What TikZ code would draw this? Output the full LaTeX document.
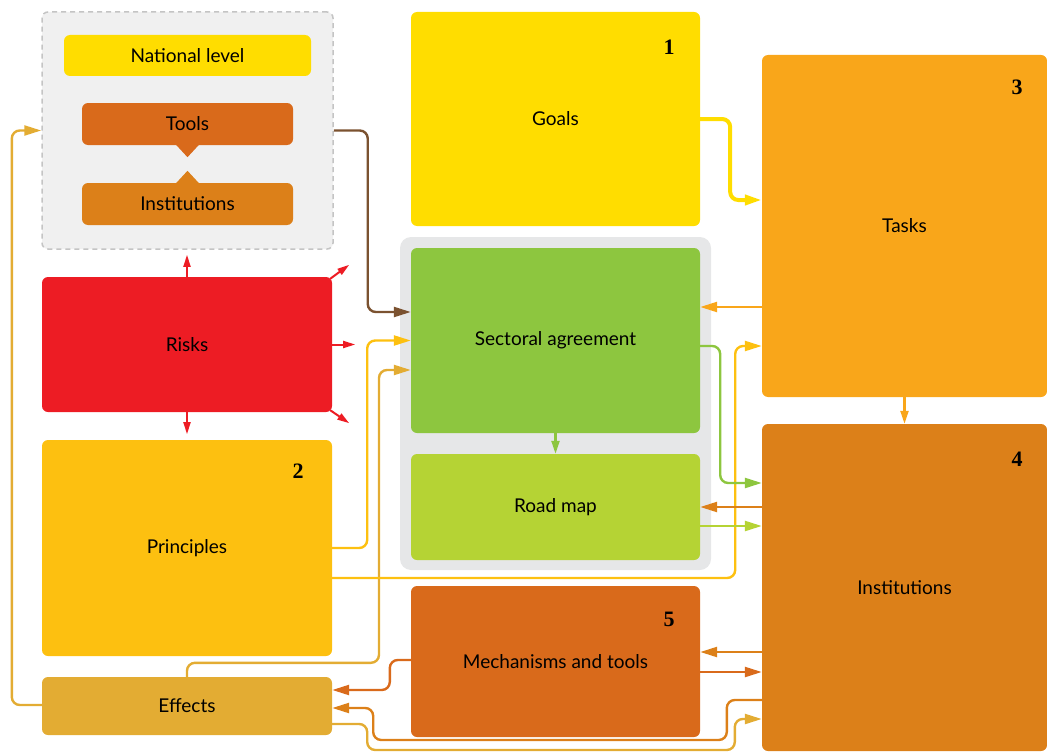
\documentclass[tikz,border=0pt]{standalone}
\usepackage{fontspec}
\setmainfont{Lato}
\newfontfamily\numfont{Liberation Serif}
\usetikzlibrary{arrows.meta}
\definecolor{yelc}{HTML}{FFDD00}
\definecolor{taskc}{HTML}{F9A61A}
\definecolor{instc}{HTML}{DC8019}
\definecolor{mechc}{HTML}{D96A1B}
\definecolor{sectc}{HTML}{8DC63F}
\definecolor{roadc}{HTML}{B5D334}
\definecolor{riskc}{HTML}{ED1C24}
\definecolor{princc}{HTML}{FDC010}
\definecolor{effc}{HTML}{E3AC33}
\definecolor{contc}{HTML}{E6E7E8}
\definecolor{grpc}{HTML}{F0F0F0}
\definecolor{grpb}{HTML}{C4C4C4}
\definecolor{brownc}{HTML}{7B5230}
\begin{document}
\begin{tikzpicture}[x=1pt,y=-1pt,
  box/.style={rectangle, rounded corners=6pt, inner sep=0pt, text=black,
    font=\fontsize{19}{22}\selectfont},
  numlabel/.style={inner sep=0pt, text=black, font=\numfont\bfseries\fontsize{22}{22}\selectfont},
  conn/.style={line width=2.4pt, rounded corners=8pt, -{Triangle[length=17pt,width=10pt]}},
  small/.style={line width=2.2pt, -{Triangle[length=13pt,width=8pt]}},
  redarrow/.style={riskc, line width=2pt, -{Triangle[length=12pt,width=7pt]}}]
\useasboundingbox (0,0) rectangle (1047,752);

% group box
\node[box, fill=grpc, draw=grpb, dashed, dash pattern=on 5pt off 4pt, line width=1.5pt,
  minimum width=291pt, minimum height=237pt] (grp) at (187.5,130.5) {};
\node[box, fill=yelc, minimum width=247pt, minimum height=41pt] (nat) at (187.5,55.5) {National level};
\node[box, fill=mechc, minimum width=211pt, minimum height=42pt] (tools) at (187.5,124) {Tools};
\node[box, fill=instc, minimum width=211pt, minimum height=42pt] (inss) at (187.5,204) {Institutions};
\fill[mechc] ([xshift=-12pt,yshift=1pt]tools.south) -- ([xshift=12pt,yshift=1pt]tools.south) -- ([yshift=-12pt]tools.south) -- cycle;
\fill[instc] ([xshift=-12pt,yshift=-1pt]inss.north) -- ([xshift=12pt,yshift=-1pt]inss.north) -- ([yshift=12pt]inss.north) -- cycle;

% main boxes
\node[box, fill=yelc, minimum width=289pt, minimum height=214pt] (goals) at (555.5,119) {Goals};
\node[box, fill=taskc, minimum width=285pt, minimum height=342pt] (tasks) at (904.5,226) {Tasks};
\node[box, fill=contc, rounded corners=11pt, minimum width=311pt, minimum height=333pt] (cont) at (555.5,403.5) {};
\node[box, fill=sectc, minimum width=289pt, minimum height=185pt] (sect) at (555.5,340.5) {Sectoral agreement};
\node[box, fill=roadc, minimum width=289pt, minimum height=106pt] (road) at (555.5,507) {Road map};
\node[box, fill=riskc, minimum width=290pt, minimum height=135pt] (risks) at (187,344.5) {Risks};
\node[box, fill=princc, minimum width=290pt, minimum height=216pt] (princ) at (187,548) {Principles};
\node[box, fill=instc, minimum width=285pt, minimum height=327pt] (inst) at (904.5,587.5) {Institutions};
\node[box, fill=mechc, minimum width=289pt, minimum height=151pt] (mech) at (555.5,661.5) {Mechanisms and tools};
\node[box, fill=effc, minimum width=290pt, minimum height=58pt] (eff) at (187,706) {Effects};

\node[numlabel] (n1) at (669,47) {1};
\node[numlabel] (n2) at (298,471) {2};
\node[numlabel] (n3) at (1017,87) {3};
\node[numlabel] (n4) at (1017,459) {4};
\node[numlabel] (n5) at (669,619) {5};

% connectors
\draw[conn, brownc] (grp.east) -- ++(34,0) |- ([yshift=28.5pt]sect.west);
\draw[conn, yelc, line width=4pt] (goals.east) -- ++(30,0) |- ([yshift=26pt]tasks.west);
\draw[conn, taskc] ([yshift=-81pt]tasks.west) -- ([yshift=33.5pt]sect.east);
\draw[conn, princc] (princ.east) -- ++(35,0) |- (sect.west);
\draw[conn, effc] (eff.north) -- ++(0,-14) -- ++(192,0) |- ([yshift=-29.5pt]sect.west);
\draw[conn, princc] ([yshift=-30pt]princ.east) -- ++(403,0) |- ([yshift=-120pt]tasks.west);
\draw[small, sectc] (sect.south) -- (road.north);
\draw[small, taskc] (tasks.south) -- (inst.north);
\draw[conn, sectc] ([yshift=-5.5pt]sect.east) -- ++(20,0) |- ([yshift=104.5pt]inst.west);
\draw[conn, instc] ([yshift=80.5pt]inst.west) -- (road.east);
\draw[conn, roadc] ([yshift=-19pt]road.east) -- ([yshift=61.5pt]inst.west);
\draw[conn, instc] ([yshift=-64.5pt]inst.west) -- ([yshift=9.5pt]mech.east);
\draw[conn, mechc] ([yshift=-10.5pt]mech.east) -- ([yshift=-84.5pt]inst.west);
\draw[conn, mechc] ([yshift=1.5pt]mech.west) -- ++(-21,0) |- ([yshift=16pt]eff.east);
\draw[conn, instc] ([yshift=-112.5pt]inst.west) -- ++(-35,0) -- ++(0,40) -| ([xshift=41pt,yshift=-2pt]eff.east) -- ([yshift=-2pt]eff.east);
\draw[conn, effc] ([yshift=-18pt]eff.east) -- ++(35,0) -- ++(0,26) -| ([xshift=-27pt,yshift=-131.5pt]inst.west) -- ([yshift=-131.5pt]inst.west);
\draw[conn, effc] ([yshift=1pt]eff.west) -- ++(-30,0) |- (grp.west);

% risk arrows
\draw[redarrow] (risks.north) -- ++(0,-22);
\draw[redarrow] (risks.south) -- ++(0,22);
\draw[redarrow] (risks.east) -- ++(23,0);
\draw[redarrow] ([xshift=-2pt,yshift=-2pt]risks.north east) -- ++(19,-14);
\draw[redarrow] ([xshift=-2pt,yshift=2pt]risks.south east) -- ++(19,13);
\end{tikzpicture}
\end{document}
